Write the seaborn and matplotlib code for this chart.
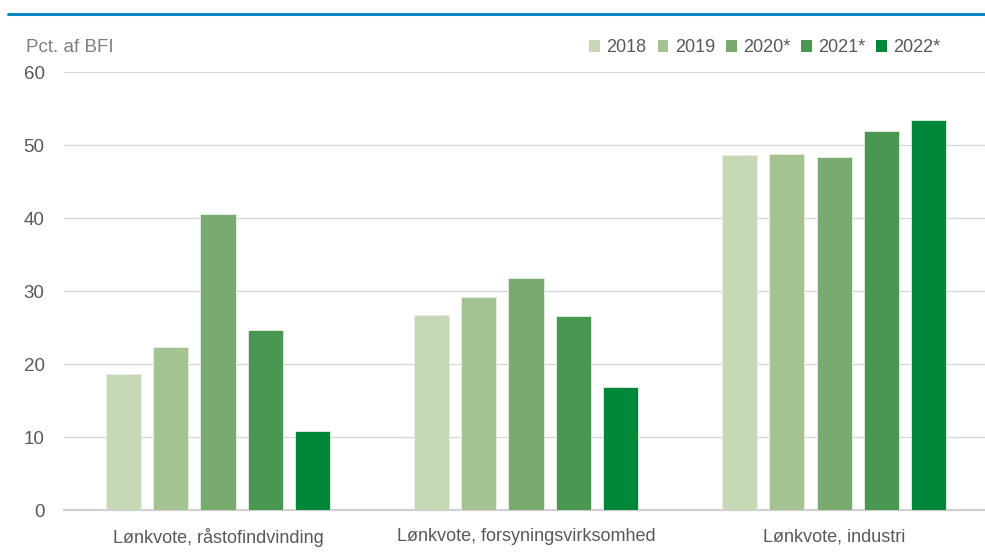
import pandas as pd
import seaborn as sns
import matplotlib.pyplot as plt
from matplotlib.lines import Line2D
from matplotlib.patches import Patch

# data
kategorier = ["Lønkvote, råstofindvinding", "Lønkvote, forsyningsvirksomhed", "Lønkvote, industri"]
aar = ["2018", "2019", "2020*", "2021*", "2022*"]
v2018 = [18.6, 26.7, 48.7]
v2019 = [22.4, 29.2, 48.8]
v2020 = [40.5, 31.8, 48.3]
v2021 = [24.7, 26.6, 51.9]
v2022 = [10.8, 16.9, 53.4]
farver = ["#c6d8b6", "#a5c293", "#79ab70", "#4a9753", "#00873a"]

rows = []
for a, vals in zip(aar, [v2018, v2019, v2020, v2021, v2022]):
    for k, v in zip(kategorier, vals):
        rows.append({"kategori": k, "aar": a, "vaerdi": v})
df = pd.DataFrame(rows)

sns.set_style("white")
plt.rcParams["font.family"] = ["Liberation Sans Narrow", "Liberation Sans", "DejaVu Sans"]

fig = plt.figure(figsize=(9.85, 5.54), dpi=100)
ax = fig.add_axes([64 / 985, 1 - 510.4 / 554, (985 - 64) / 985, (510.4 - 72) / 554])

sns.barplot(data=df, x="kategori", y="vaerdi", hue="aar", palette=farver, saturation=1,
            width=0.77, gap=0.26, edgecolor="#e8efe2", linewidth=0.6,
            ax=ax, legend=False, zorder=3)

ax.set_ylim(0, 60)
ax.set_xlim(-0.5, 2.49)
ax.set_yticks(range(0, 61, 10))
ax.yaxis.grid(True, color="#d9d9d9", linewidth=1.0, zorder=0)
ax.set_axisbelow(True)
for s in ["top", "right", "left"]:
    ax.spines[s].set_visible(False)
ax.spines["bottom"].set_color("#d0d0d0")
ax.spines["bottom"].set_linewidth(1.6)
ax.tick_params(axis="both", length=0, labelcolor="#595959")
ax.tick_params(axis="y", pad=14, labelsize=13.5)
ax.tick_params(axis="x", pad=13, labelsize=13)
ax.set_xlabel("")
ax.set_ylabel("")

fig.text(26 / 985, 1 - 47 / 554, "Pct. af BFI", fontsize=13.5, color="#7f7f7f", va="center", ha="left")

# blå linje øverst
fig.add_artist(Line2D([8 / 985, 1], [1 - 14 / 554, 1 - 14 / 554], color="#0a87c8", linewidth=2.2))

handles = [Patch(facecolor=c, edgecolor="none") for c in farver]
fig.legend(handles, aar, loc="center right", bbox_to_anchor=(957 / 985, 1 - 48 / 554),
           ncol=5, frameon=False, fontsize=13, labelcolor="#595959",
           handlelength=0.6, handleheight=0.6, handletextpad=0.35, columnspacing=0.6)

fig.savefig("out.png", dpi=100)
